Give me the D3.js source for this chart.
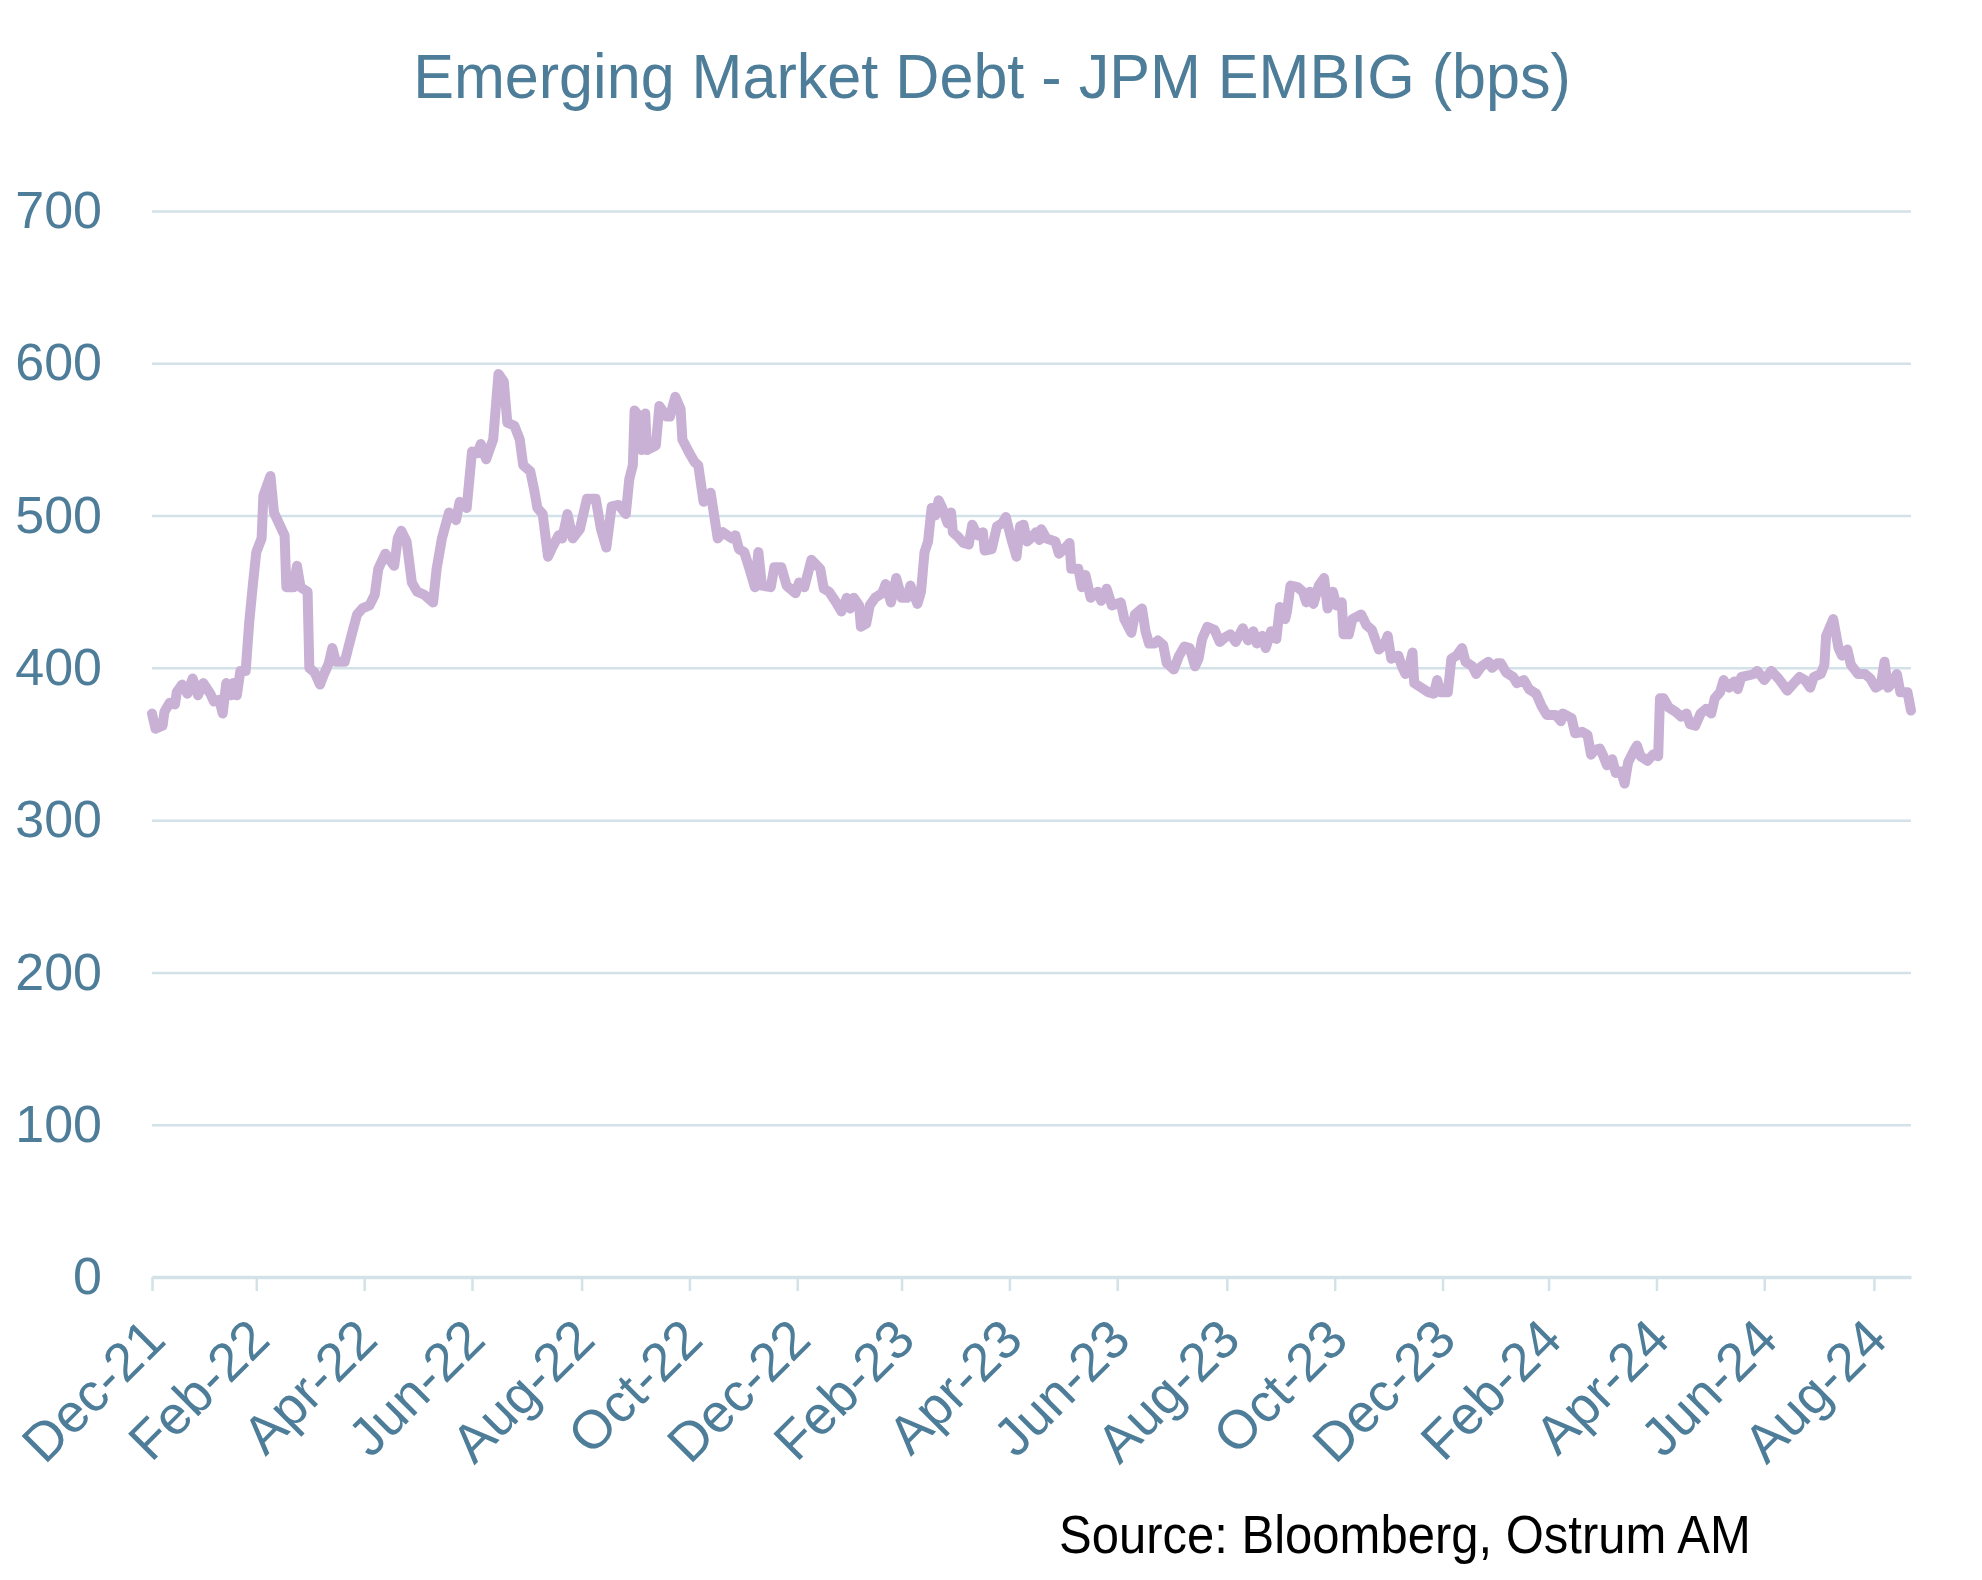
<!DOCTYPE html>
<html>
<head>
<meta charset="utf-8">
<script src="https://cdn.jsdelivr.net/npm/d3@7/dist/d3.min.js"></script>
<style>
  html, body { margin: 0; padding: 0; background: #ffffff; }
  svg { display: block; }
</style>
</head>
<body>
<svg id="chart" width="1982" height="1580"></svg>
<script>
const titleText = "Emerging Market Debt - JPM EMBIG (bps)";
const sourceText = "Source: Bloomberg, Ostrum AM";

const yTicks = [0, 100, 200, 300, 400, 500, 600, 700];
const xTickDates = ["2021-12-31","2022-02-28","2022-04-30","2022-06-30","2022-08-31","2022-10-31","2022-12-31",
  "2023-02-28","2023-04-30","2023-06-30","2023-08-31","2023-10-31","2023-12-31",
  "2024-02-29","2024-04-30","2024-06-30","2024-08-31"];
const xTickLabels = ["Dec-21","Feb-22","Apr-22","Jun-22","Aug-22","Oct-22","Dec-22","Feb-23","Apr-23","Jun-23",
  "Aug-23","Oct-23","Dec-23","Feb-24","Apr-24","Jun-24","Aug-24"];

const dates = [
  "2021-12-31","2022-01-02","2022-01-06","2022-01-07","2022-01-10","2022-01-13","2022-01-14","2022-01-17","2022-01-20","2022-01-23","2022-01-26","2022-01-29",
  "2022-02-02","2022-02-04","2022-02-07","2022-02-09","2022-02-11","2022-02-14","2022-02-15","2022-02-17","2022-02-19","2022-02-22","2022-02-24","2022-02-26","2022-02-28",
  "2022-03-03","2022-03-04","2022-03-08","2022-03-10","2022-03-16","2022-03-17","2022-03-21","2022-03-23","2022-03-25","2022-03-29","2022-03-30",
  "2022-04-02","2022-04-05","2022-04-07","2022-04-10","2022-04-12","2022-04-14","2022-04-19","2022-04-21","2022-04-23","2022-04-26","2022-04-29",
  "2022-05-03","2022-05-06","2022-05-08","2022-05-12","2022-05-15","2022-05-17","2022-05-19","2022-05-21","2022-05-24","2022-05-27","2022-05-30",
  "2022-06-03","2022-06-08","2022-06-10","2022-06-13","2022-06-17","2022-06-21","2022-06-23","2022-06-27","2022-06-30",
  "2022-07-03","2022-07-05","2022-07-08","2022-07-12","2022-07-15","2022-07-18","2022-07-20","2022-07-24","2022-07-27","2022-07-29",
  "2022-08-02","2022-08-04","2022-08-06","2022-08-09","2022-08-12","2022-08-14","2022-08-18","2022-08-20","2022-08-23","2022-08-26","2022-08-30",
  "2022-09-03","2022-09-08","2022-09-11","2022-09-14","2022-09-17","2022-09-21","2022-09-25","2022-09-27","2022-09-29","2022-09-30",
  "2022-10-02","2022-10-04","2022-10-06","2022-10-07","2022-10-12","2022-10-14","2022-10-18","2022-10-20","2022-10-23","2022-10-26","2022-10-27","2022-10-31",
  "2022-11-03","2022-11-05","2022-11-08","2022-11-12","2022-11-16","2022-11-19","2022-11-24","2022-11-26","2022-11-28",
  "2022-12-01","2022-12-04","2022-12-07","2022-12-09","2022-12-11","2022-12-16","2022-12-18","2022-12-22","2022-12-25","2022-12-30",
  "2023-01-01","2023-01-04","2023-01-08","2023-01-13","2023-01-15","2023-01-18","2023-01-22","2023-01-25","2023-01-28","2023-01-30",
  "2023-02-01","2023-02-04","2023-02-05","2023-02-08","2023-02-10","2023-02-13","2023-02-17","2023-02-19","2023-02-22","2023-02-25","2023-02-28",
  "2023-03-03","2023-03-05","2023-03-07","2023-03-09","2023-03-11","2023-03-13","2023-03-15","2023-03-17","2023-03-19","2023-03-21","2023-03-23","2023-03-26","2023-03-28","2023-03-29",
  "2023-04-01","2023-04-04","2023-04-07","2023-04-09","2023-04-12","2023-04-15","2023-04-16","2023-04-20","2023-04-23","2023-04-26","2023-04-28",
  "2023-05-01","2023-05-04","2023-05-06","2023-05-08","2023-05-10","2023-05-12","2023-05-15","2023-05-17","2023-05-18","2023-05-21","2023-05-26","2023-05-28","2023-05-31",
  "2023-06-03","2023-06-04","2023-06-08","2023-06-10","2023-06-12","2023-06-15","2023-06-19","2023-06-21","2023-06-24","2023-06-27",
  "2023-07-02","2023-07-04","2023-07-08","2023-07-10","2023-07-14","2023-07-16","2023-07-18","2023-07-21","2023-07-23","2023-07-26","2023-07-28","2023-07-30",
  "2023-08-01","2023-08-04","2023-08-07","2023-08-10","2023-08-13","2023-08-15","2023-08-17","2023-08-20","2023-08-24","2023-08-27","2023-08-30",
  "2023-09-02","2023-09-05","2023-09-09","2023-09-12","2023-09-15","2023-09-17","2023-09-20","2023-09-22","2023-09-25","2023-09-28","2023-09-30",
  "2023-10-03","2023-10-04","2023-10-06","2023-10-10","2023-10-13","2023-10-15","2023-10-17","2023-10-19","2023-10-22","2023-10-25","2023-10-27","2023-10-30",
  "2023-11-01","2023-11-04","2023-11-05","2023-11-08","2023-11-10","2023-11-15","2023-11-18","2023-11-21","2023-11-25","2023-11-28","2023-11-30",
  "2023-12-02","2023-12-06","2023-12-08","2023-12-10","2023-12-12","2023-12-14","2023-12-15","2023-12-19","2023-12-23","2023-12-26","2023-12-28","2023-12-30",
  "2024-01-03","2024-01-05","2024-01-08","2024-01-11","2024-01-13","2024-01-17","2024-01-19","2024-01-22","2024-01-26","2024-01-28","2024-01-31",
  "2024-02-02","2024-02-05","2024-02-09","2024-02-11","2024-02-15","2024-02-18","2024-02-22","2024-02-25","2024-02-28",
  "2024-03-04","2024-03-07","2024-03-08","2024-03-13","2024-03-15","2024-03-19","2024-03-22","2024-03-24","2024-03-26","2024-03-29","2024-03-31",
  "2024-04-02","2024-04-05","2024-04-07","2024-04-10","2024-04-12","2024-04-14","2024-04-17","2024-04-19","2024-04-21","2024-04-25","2024-04-28",
  "2024-05-01","2024-05-02","2024-05-04","2024-05-07","2024-05-11","2024-05-14","2024-05-17","2024-05-19","2024-05-22","2024-05-25","2024-05-28","2024-05-31",
  "2024-06-02","2024-06-05","2024-06-07","2024-06-10","2024-06-13","2024-06-15","2024-06-17","2024-06-21","2024-06-24","2024-06-26","2024-06-30",
  "2024-07-04","2024-07-08","2024-07-10","2024-07-13","2024-07-16","2024-07-20","2024-07-23","2024-07-26","2024-07-28",
  "2024-08-01","2024-08-03","2024-08-04","2024-08-08","2024-08-11","2024-08-13","2024-08-16","2024-08-18","2024-08-22","2024-08-26","2024-08-29",
  "2024-09-01","2024-09-04","2024-09-06","2024-09-08","2024-09-11","2024-09-13","2024-09-15","2024-09-19","2024-09-21"
];

const spreads = [
  370,360,362,371,377,376,384,389,383,393,382,390,
  383,378,379,370,390,382,390,382,398,398,430,454,476,
  485,513,526,502,487,453,453,467,453,450,400,
  397,389,395,403,413,404,404,413,422,435,439,
  441,448,465,475,470,467,485,490,483,456,450,
  448,443,465,485,502,497,509,505,542,
  541,547,537,550,593,588,561,559,550,533,
  529,518,505,501,473,478,487,485,501,485,491,
  511,511,491,479,506,507,501,524,533,569,
  566,543,567,543,546,572,565,565,578,570,550,541,
  535,533,509,515,485,489,485,487,478,
  476,465,453,476,454,453,466,466,454,449,
  456,453,471,465,452,450,443,437,446,439,
  446,441,427,429,441,446,449,455,443,459,446,
  446,454,448,442,450,476,483,505,500,510,505,495,502,489,
  486,482,481,494,487,489,477,478,493,495,499,
  485,473,493,494,483,485,489,484,491,485,483,475,478,
  482,465,465,453,461,446,450,444,452,441,
  443,432,423,435,439,424,416,416,418,415,403,401,
  399,408,414,413,401,406,419,427,425,417,420,
  422,417,426,418,424,416,421,413,424,419,440,
  432,437,454,453,450,443,450,442,454,459,439,450,
  441,443,422,422,432,435,428,425,412,415,421,
  406,408,401,396,400,410,390,387,384,383,392,384,
  384,406,408,413,404,401,396,401,404,400,403,
  403,397,394,390,392,386,383,375,369,
  369,365,370,367,357,358,356,343,346,347,342,
  336,340,331,332,324,338,345,349,342,339,343,
  342,380,380,374,371,368,370,363,362,370,373,370,
  380,384,392,387,391,386,394,395,396,398,392,
  398,393,390,385,389,394,392,387,394,
  396,402,421,432,413,408,412,402,396,396,393,
  387,389,404,387,391,396,384,384,372
];

(function () {
const parse = d3.timeParse("%Y-%m-%d");
const series = dates.map((d, i) => ({ date: parse(d), value: spreads[i] }));

const svg = d3.select("#chart");
const plotLeft = 152, plotRight = 1911, plotTop = 211, plotBottom = 1277;
const axisColor = "#d3e2e8";
const textColor = "#4d7d98";
const labelFont = "'Liberation Sans', Arial, sans-serif";

const x = d3.scaleTime()
  .domain([parse("2021-12-31"), parse("2024-09-21")])
  .range([plotLeft, plotRight]);
const y = d3.scaleLinear().domain([0, 700]).range([plotBottom, plotTop]);

// gridlines + y labels
const yAxis = svg.append("g")
  .attr("transform", `translate(${plotLeft},0)`)
  .call(d3.axisLeft(y).tickValues(yTicks).tickSize(-(plotRight - plotLeft)).tickPadding(50).tickFormat(d3.format("d")));
yAxis.select(".domain").remove();
yAxis.selectAll(".tick line")
  .attr("stroke", axisColor).attr("stroke-width", 2.5)
  .attr("stroke-opacity", d => d === 0 ? 0 : 1);
yAxis.selectAll(".tick text")
  .attr("fill", textColor)
  .style("font-family", labelFont)
  .style("font-size", "52px");

// x axis
const xAxis = svg.append("g")
  .attr("transform", `translate(0,${plotBottom})`)
  .call(d3.axisBottom(x).tickValues(xTickDates.map(parse)).tickFormat((d, i) => xTickLabels[i]).tickSize(14).tickSizeOuter(0));
xAxis.select(".domain").attr("stroke", axisColor).attr("stroke-width", 3.5);
xAxis.selectAll(".tick line").attr("stroke", axisColor).attr("stroke-width", 2.5);
xAxis.selectAll(".tick text")
  .attr("fill", textColor)
  .style("font-family", labelFont)
  .style("font-size", "54px")
  .style("text-anchor", "end")
  .attr("x", 0).attr("y", 0).attr("dy", "0.35em")
  .attr("transform", "translate(2,52) rotate(-45)");

// line
const line = d3.line().x(d => x(d.date)).y(d => y(d.value)).curve(d3.curveLinear);
svg.append("path")
  .datum(series)
  .attr("d", line)
  .attr("fill", "none")
  .attr("stroke", "#c8b1d5")
  .attr("stroke-width", 10)
  .attr("stroke-linejoin", "round")
  .attr("stroke-linecap", "round");

// helper: fit text to a target width with horizontal scaling, keeping given font size
function fitText(sel, cx, cy, targetWidth, anchor) {
  const w = sel.node().getComputedTextLength();
  const sx = targetWidth / w;
  sel.attr("x", 0).attr("y", 0)
     .attr("text-anchor", anchor)
     .attr("transform", `translate(${cx},${cy}) scale(${sx},1)`);
}

// title
const title = svg.append("text")
  .attr("fill", textColor)
  .style("font-family", labelFont)
  .style("font-size", "63px")
  .text(titleText);
fitText(title, 992, 98, 1158, "middle");

// source
const src = svg.append("text")
  .attr("fill", "#000000")
  .style("font-family", labelFont)
  .style("font-size", "53px")
  .text(sourceText);
fitText(src, 1059, 1553, 692, "start");
})();
</script>
</body>
</html>
